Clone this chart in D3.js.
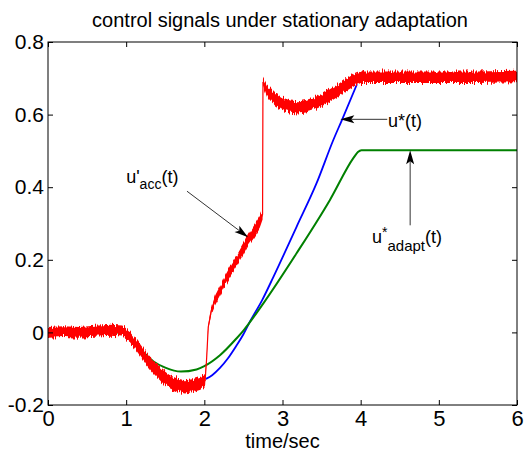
<!DOCTYPE html>
<html>
<head>
<meta charset="utf-8">
<script src="https://cdn.jsdelivr.net/npm/d3@7"></script>
<style>
  body { margin: 0; background: #fff; }
  svg { display: block; font-family: "Liberation Sans", Arial, sans-serif; }
</style>
</head>
<body>
<svg id="chart" width="524" height="457"></svg>
<script>
// ticks
var xTicks = [0, 1, 2, 3, 4, 5, 6];
var yTicks = [-0.2, 0, 0.2, 0.4, 0.6, 0.8];
var yTickLabels = ["-0.2", "0", "0.2", "0.4", "0.6", "0.8"];

// u*(t), blue
var blueT = [2.02, 2.1, 2.2, 2.3, 2.4, 2.5, 2.584, 2.74, 2.884, 3.18, 3.436, 3.65, 3.76, 3.953];
var blueV = [-0.128, -0.118, -0.098, -0.072, -0.04, -0.005, 0.03, 0.089, 0.153, 0.291, 0.411, 0.53, 0.585, 0.684];

// u*adapt(t), green
var greenT = [0, 1.0, 1.1, 1.2, 1.35, 1.5, 1.7, 1.9, 2.0, 2.2, 2.414, 2.5, 2.755, 3.18, 3.607, 3.906, 3.965, 4.01, 6.0];
var greenV = [0, 0, -0.025, -0.05, -0.08, -0.097, -0.108, -0.102, -0.093, -0.063, -0.016, 0.005, 0.08, 0.218, 0.365, 0.48, 0.497, 0.502, 0.502];

// u'acc(t), red: middle of the noisy band and its half height
var redT = [0, 0.2, 0.4, 0.6, 0.8, 0.95, 1.05, 1.15, 1.25, 1.35, 1.45, 1.55, 1.65, 1.75, 1.85, 1.95, 2.01, 2.03, 2.05, 2.09, 2.14, 2.2, 2.27, 2.35, 2.42, 2.5, 2.56, 2.64, 2.71, 2.745, 2.75, 2.8, 2.9, 3.0, 3.1, 3.2, 3.3, 3.4, 3.5, 3.6, 3.7, 3.8, 3.9, 4.0, 4.5, 5.0, 5.5, 6.0];
var redV = [0.0, 0.002, 0.0, 0.003, 0.006, 0.004, -0.012, -0.04, -0.07, -0.095, -0.118, -0.135, -0.145, -0.15, -0.147, -0.14, -0.133, -0.07, 0.015, 0.06, 0.09, 0.115, 0.145, 0.175, 0.2, 0.23, 0.255, 0.28, 0.305, 0.325, 0.69, 0.665, 0.643, 0.63, 0.622, 0.62, 0.623, 0.63, 0.64, 0.652, 0.665, 0.68, 0.693, 0.703, 0.703, 0.703, 0.703, 0.705];
var redHalf = [0.015, 0.015, 0.015, 0.015, 0.015, 0.015, 0.015, 0.016, 0.017, 0.018, 0.018, 0.018, 0.018, 0.018, 0.018, 0.018, 0.015, 0.006, 0.006, 0.01, 0.012, 0.013, 0.013, 0.014, 0.014, 0.015, 0.015, 0.016, 0.016, 0.014, 0.012, 0.016, 0.017, 0.017, 0.017, 0.017, 0.017, 0.017, 0.017, 0.017, 0.017, 0.017, 0.017, 0.016, 0.016, 0.016, 0.016, 0.016];

var svg = d3.select('#chart');
var W = 524, H = 457;
var margin = {left: 48, right: 7, top: 42, bottom: 52};

var x = d3.scaleLinear().domain([0, 6]).range([margin.left, W - margin.right]);
var y = d3.scaleLinear().domain([-0.2, 0.8]).range([H - margin.bottom, margin.top]);

var defs = svg.append('defs');
// jagged edge for the noisy red band
var f = defs.append('filter').attr('id', 'jag')
  .attr('filterUnits', 'userSpaceOnUse')
  .attr('x', 0).attr('y', 0).attr('width', W).attr('height', H);
f.append('feTurbulence').attr('type', 'fractalNoise')
  .attr('baseFrequency', '0.9 0.04').attr('numOctaves', 2).attr('seed', 4).attr('result', 'n');
f.append('feColorMatrix').attr('in', 'n').attr('type', 'matrix')
  .attr('values', '1 0 0 0 0  0 0 0 0 0.5  0 0 1 0 0  0 0 0 0 1').attr('result', 'm');
f.append('feDisplacementMap').attr('in', 'SourceGraphic').attr('in2', 'm')
  .attr('scale', 9).attr('xChannelSelector', 'G').attr('yChannelSelector', 'R');

defs.append('clipPath').attr('id', 'plotclip').append('rect')
  .attr('x', x(0)).attr('y', y(0.8)).attr('width', x(6) - x(0)).attr('height', y(-0.2) - y(0.8));

var plot = svg.append('g').attr('clip-path', 'url(#plotclip)');

var line = d3.line().x(function (d) { return x(d[0]); }).y(function (d) { return y(d[1]); });
var smooth = d3.line().curve(d3.curveMonotoneX)
  .x(function (d) { return x(d[0]); }).y(function (d) { return y(d[1]); });

plot.append('path')
  .attr('d', smooth(d3.zip(blueT, blueV)))
  .attr('fill', 'none').attr('stroke', '#0000ff').attr('stroke-width', 1.8);

plot.append('path')
  .attr('d', smooth(d3.zip(greenT, greenV)))
  .attr('fill', 'none').attr('stroke', '#008000').attr('stroke-width', 2);

var redData = redT.map(function (t, i) { return [t, redV[i], redHalf[i]]; });
var band = d3.area()
  .x(function (d) { return x(d[0]); })
  .y0(function (d) { return y(d[1] - d[2]); })
  .y1(function (d) { return y(d[1] + d[2]); });

plot.append('path')
  .attr('d', band(redData))
  .attr('fill', '#ff0000').attr('filter', 'url(#jag)');
plot.append('path')
  .attr('d', line(redData))
  .attr('fill', 'none').attr('stroke', '#ff0000').attr('stroke-width', 1.2);

// axes, ticks pointing inward
var xAxis = svg.append('g').attr('transform', 'translate(0,' + y(-0.2) + ')')
  .call(d3.axisBottom(x).tickValues(xTicks).tickSize(-5).tickPadding(5).tickFormat(d3.format('d')));
svg.append('g').attr('transform', 'translate(0,' + y(0.8) + ')')
  .call(d3.axisTop(x).tickValues(xTicks).tickSize(-5).tickFormat(''));
var yAxis = svg.append('g').attr('transform', 'translate(' + x(0) + ',0)')
  .call(d3.axisLeft(y).tickValues(yTicks).tickSize(-5).tickPadding(4)
    .tickFormat(function (d, i) { return yTickLabels[i]; }));
svg.append('g').attr('transform', 'translate(' + x(6) + ',0)')
  .call(d3.axisRight(y).tickValues(yTicks).tickSize(-5).tickFormat(''));

svg.selectAll('.domain').remove();
svg.selectAll('.tick line').attr('stroke', '#000');
svg.selectAll('.tick text').attr('fill', '#000').style('font-family', '"Liberation Sans", Arial, sans-serif');
xAxis.selectAll('.tick text').style('font-size', '22px');
yAxis.selectAll('.tick text').style('font-size', '21px');

svg.append('rect')
  .attr('x', x(0)).attr('y', y(0.8))
  .attr('width', x(6) - x(0)).attr('height', y(-0.2) - y(0.8))
  .attr('fill', 'none').attr('stroke', '#000').attr('stroke-width', 1);

svg.append('text')
  .attr('x', 280).attr('y', 27)
  .attr('text-anchor', 'middle').style('font-size', '20px')
  .text('control signals under stationary adaptation');

svg.append('text')
  .attr('x', (x(0) + x(6)) / 2).attr('y', 448)
  .attr('text-anchor', 'middle').style('font-size', '20px')
  .text('time/sec');

// annotations
function arrow(t0, v0, t1, v1) {
  var x0 = x(t0), y0 = y(v0), x1 = x(t1), y1 = y(v1);
  var a = Math.atan2(y1 - y0, x1 - x0), L = 11, w = 4;
  var bx = x1 - L * Math.cos(a), by = y1 - L * Math.sin(a);
  svg.append('line').attr('x1', x0).attr('y1', y0).attr('x2', bx).attr('y2', by)
    .attr('stroke', '#333').attr('stroke-width', 1);
  var nx = -Math.sin(a), ny = Math.cos(a);
  var back = 3;
  svg.append('path')
    .attr('d', 'M' + x1 + ',' + y1 +
      'L' + (bx - back * Math.cos(a) + w * nx) + ',' + (by - back * Math.sin(a) + w * ny) +
      'L' + bx + ',' + by +
      'L' + (bx - back * Math.cos(a) - w * nx) + ',' + (by - back * Math.sin(a) - w * ny) + 'Z')
    .attr('fill', '#000');
}

arrow(1.778, 0.389, 2.56, 0.262);
arrow(4.34, 0.587, 3.74, 0.587);
arrow(4.633, 0.295, 4.633, 0.502);

var t1 = svg.append('text').attr('x', x(1.0)).attr('y', y(0.412)).style('font-size', '18px');
t1.append('tspan').text("u'");
t1.append('tspan').attr('dy', 6).style('font-size', '14px').text('acc');
t1.append('tspan').attr('dy', -6).text('(t)');

svg.append('text').attr('x', x(4.35)).attr('y', y(0.566)).style('font-size', '18px').text('u*(t)');

var t3 = svg.append('text').attr('x', x(4.145)).attr('y', y(0.246)).style('font-size', '18px');
t3.append('tspan').text('u');
t3.append('tspan').attr('dy', -6).style('font-size', '14px').text('*');
t3.append('tspan').attr('dy', 14).style('font-size', '15px').text('adapt');
t3.append('tspan').attr('dy', -8).text('(t)');
</script>
</body>
</html>
